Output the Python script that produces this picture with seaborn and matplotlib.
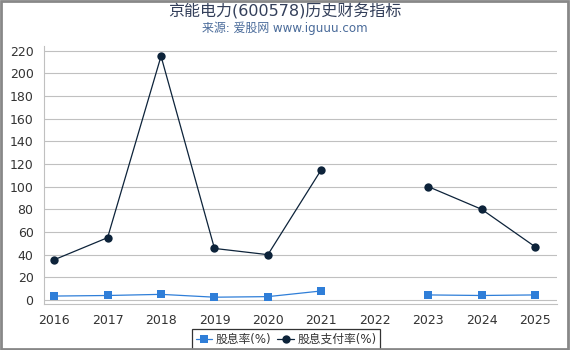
import numpy as np
import pandas as pd
import seaborn as sns
import matplotlib.pyplot as plt

# 数据
years = [2016, 2017, 2018, 2019, 2020, 2021, 2022, 2023, 2024, 2025]
dividend_yield = [3.5, 4.0, 5.0, 2.5, 3.0, 8.0, np.nan, 4.5, 4.0, 4.5]
payout_ratio = [35.5, 55.0, 215.0, 45.5, 40.0, 115.0, np.nan, 100.0, 80.0, 47.0]
yield_name = '股息率(%)'
payout_name = '股息支付率(%)'

rows = []
for name, vals in [(yield_name, dividend_yield), (payout_name, payout_ratio)]:
    seg = 0
    for y, v in zip(years, vals):
        if np.isnan(v):
            seg += 1
            continue
        rows.append({'year': y, 'value': v, 'series': name, 'seg': seg})
df = pd.DataFrame(rows)

sns.set_style('white')
plt.rcParams['font.family'] = ['DejaVu Sans', 'Noto Sans CJK SC']

fig = plt.figure(figsize=(5.7, 3.5), dpi=100)
ax = fig.add_axes([44 / 570, 46 / 350, 513 / 570, 258 / 350])

palette = {yield_name: '#2f7ed8', payout_name: '#0d233a'}
sns.lineplot(data=df, x='year', y='value', hue='series', style='series',
             units='seg', estimator=None, palette=palette,
             markers={yield_name: 's', payout_name: 'o'}, dashes=False,
             markersize=6, linewidth=0.9, markeredgewidth=0, ax=ax)

ax.set_xlim(2016 - 0.19, 2025 + 0.41)
ax.set_ylim(-3.5, 224)
ax.set_xticks(years)
ax.set_yticks(range(0, 221, 20))
ax.tick_params(axis='both', labelsize=9, colors='#333333', length=4, width=0.8)
ax.tick_params(axis='both', color='#c0c0c0')
ax.grid(axis='y', color='#c0c0c0', linewidth=0.8)
ax.set_xlabel('')
ax.set_ylabel('')
for s in ['top', 'right']:
    ax.spines[s].set_visible(False)
for s in ['left', 'bottom']:
    ax.spines[s].set_color('#c0c0c0')
    ax.spines[s].set_linewidth(0.8)

leg = ax.legend(loc='upper center', bbox_to_anchor=(0.472, -0.075), ncol=2,
                frameon=True, fontsize=8.5, handlelength=1.4, handletextpad=0.3,
                columnspacing=0.5, borderpad=0.3, fancybox=False)
leg.get_frame().set_edgecolor('black')
leg.get_frame().set_linewidth(0.9)
for t in leg.get_texts():
    t.set_color('#333333')

fig.text(0.5, 0.966, '京能电力(600578)历史财务指标', ha='center', va='center',
         fontsize=11.5, color='#333f5a')
fig.text(0.5, 0.918, '来源: 爱股网 www.iguuu.com', ha='center', va='center',
         fontsize=8.6, color='#4a6b9a')

fig.patches.append(plt.Rectangle((0.002, 0.003), 0.995, 0.995, transform=fig.transFigure,
                                 fill=False, edgecolor='#888888', linewidth=2))

fig.savefig('out.png', dpi=100)
